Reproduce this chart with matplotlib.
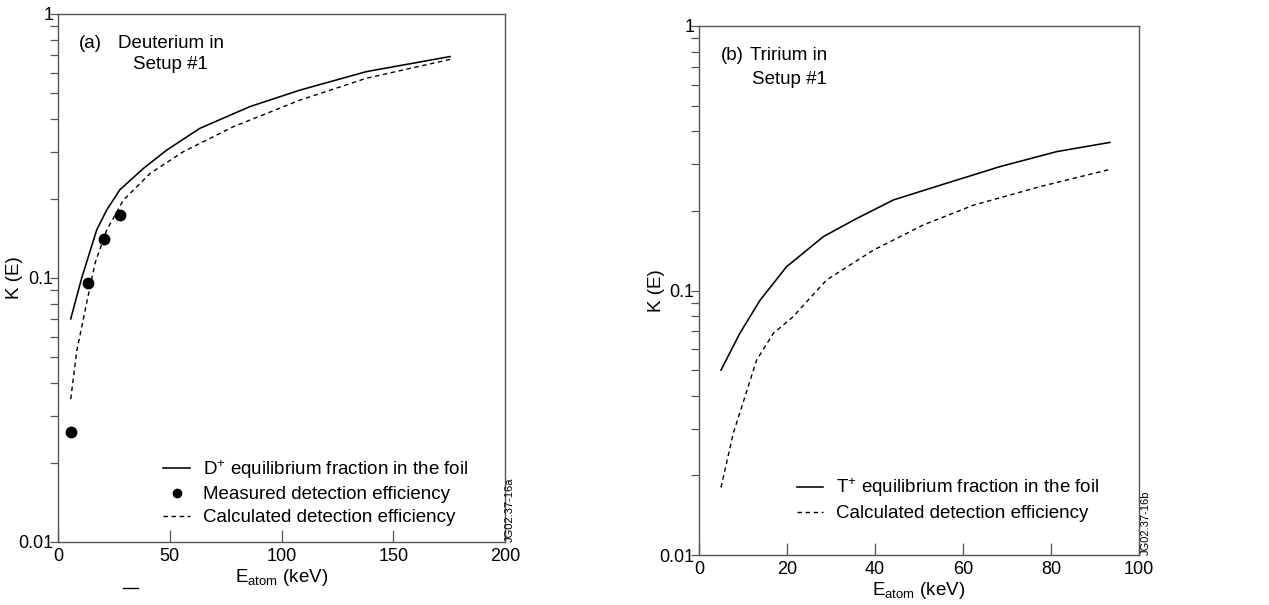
import matplotlib
matplotlib.use('Agg')
import matplotlib.pyplot as plt
from matplotlib.lines import Line2D
from matplotlib.ticker import LogLocator, FixedLocator, NullFormatter, FixedFormatter

plt.rcParams['font.family'] = ['Liberation Sans', 'DejaVu Sans']
plt.rcParams['mathtext.fontset'] = 'custom'
plt.rcParams['mathtext.rm'] = 'Liberation Sans'
plt.rcParams['mathtext.it'] = 'Liberation Sans'

FS = 13.5
TICK_FS = 13

# (a) deuterium, setup #1
d_equil_E = [5.7, 10.6, 17.3, 21.8, 27.7, 38.2, 48.6, 63.5, 85.9, 108.3, 138.0, 175.4]
d_equil_K = [0.070, 0.100, 0.152, 0.181, 0.216, 0.260, 0.305, 0.369, 0.446, 0.515, 0.605, 0.690]
d_calc_E = [5.7, 8.4, 13.1, 16.6, 21.8, 29.2, 41.2, 56.1, 78.4, 108.3, 138.0, 175.4]
d_calc_K = [0.0348, 0.053, 0.0826, 0.114, 0.152, 0.197, 0.249, 0.301, 0.374, 0.472, 0.571, 0.673]
d_meas_E = [5.95, 13.3, 20.6, 27.9]
d_meas_K = [0.026, 0.096, 0.141, 0.173]

# (b) tritium, setup #1
t_equil_E = [5.0, 9.3, 13.9, 19.9, 28.3, 35.8, 44.2, 54.8, 68.4, 81.3, 93.4]
t_equil_K = [0.050, 0.069, 0.092, 0.123, 0.160, 0.187, 0.220, 0.250, 0.294, 0.335, 0.363]
t_calc_E = [5.0, 7.8, 10.8, 13.1, 16.9, 21.4, 24.8, 29.0, 39.6, 51.0, 62.3, 77.5, 93.4]
t_calc_K = [0.018, 0.0289, 0.0414, 0.0546, 0.0689, 0.0796, 0.092, 0.1096, 0.142,
            0.177, 0.210, 0.247, 0.287]

xticks_a = [0, 50, 100, 150, 200]
xticks_b = [0, 20, 40, 60, 80, 100]

W, H = 1269, 605
fig = plt.figure(figsize=(W / 100, H / 100), dpi=100)
ax1 = fig.add_axes([58 / W, 1 - 542 / H, 447 / W, 528 / H])
ax2 = fig.add_axes([699 / W, 1 - 555 / H, 440 / W, 529 / H])

dash = (0, (3.2, 2.6))
spine_col = '#555555'


def style_axes(ax, xticks):
    ax.set_yscale('log')
    ax.set_ylim(0.01, 1)
    ax.set_xlim(xticks[0], xticks[-1])
    ax.xaxis.set_major_locator(FixedLocator(xticks))
    ax.xaxis.set_major_formatter(FixedFormatter([str(t) for t in xticks]))
    ax.yaxis.set_major_locator(FixedLocator([0.01, 0.1, 1]))
    ax.yaxis.set_major_formatter(FixedFormatter(['0.01', '0.1', '1']))
    ax.yaxis.set_minor_locator(LogLocator(base=10, subs=range(2, 10)))
    ax.yaxis.set_minor_formatter(NullFormatter())
    ax.tick_params(axis='x', which='major', direction='in', length=8.5, width=0.9,
                   color=spine_col, pad=4, labelsize=TICK_FS)
    ax.tick_params(axis='y', which='major', direction='out', length=6, width=0.9,
                   color=spine_col, pad=-2.5, labelsize=TICK_FS)
    ax.tick_params(axis='y', which='minor', direction='out', length=5.5, width=0.9,
                   color=spine_col)
    for s in ax.spines.values():
        s.set_color(spine_col)
        s.set_linewidth(1.0)
    ax.set_xlabel(r'E$_{\mathrm{atom}}$ (keV)', fontsize=FS)
    ax.set_ylabel('K (E)', fontsize=FS)
    ax.xaxis.set_label_coords(0.5, -0.047)
    ax.yaxis.set_label_coords(-0.078, 0.5)


style_axes(ax1, xticks_a)
style_axes(ax2, xticks_b)

# panel (a)
l1, = ax1.plot(d_equil_E, d_equil_K, color='black', lw=1.15)
m1, = ax1.plot(d_meas_E, d_meas_K, 'o', color='black', ms=7.5, ls='none')
c1, = ax1.plot(d_calc_E, d_calc_K, color='black', lw=1.0, ls=dash)
ax1.legend([l1, m1, c1],
           [r'D$^{+}$ equilibrium fraction in the foil',
            'Measured detection efficiency',
            'Calculated detection efficiency'],
           loc='lower left', bbox_to_anchor=(0.235, 0.03), frameon=False,
           borderpad=0, borderaxespad=0, fontsize=FS, handlelength=1.45,
           handletextpad=0.7, labelspacing=0.3, markerscale=0.8)
ax1.text(0.047, 0.945, '(a)', transform=ax1.transAxes, fontsize=FS, va='center')
ax1.text(0.134, 0.945, 'Deuterium in', transform=ax1.transAxes, fontsize=FS, va='center')
ax1.text(0.168, 0.905, 'Setup #1', transform=ax1.transAxes, fontsize=FS, va='center')
ax1.text(1.011, 0.0, 'JG02.37-16a', transform=ax1.transAxes, rotation=90,
         ha='center', va='bottom', fontsize=8)

# panel (b)
l2, = ax2.plot(t_equil_E, t_equil_K, color='black', lw=1.15)
c2, = ax2.plot(t_calc_E, t_calc_K, color='black', lw=1.0, ls=dash)
ax2.legend([l2, c2],
           [r'T$^{+}$ equilibrium fraction in the foil',
            'Calculated detection efficiency'],
           loc='lower left', bbox_to_anchor=(0.223, 0.062), frameon=False,
           borderpad=0, borderaxespad=0, fontsize=FS, handlelength=1.4,
           handletextpad=0.7, labelspacing=0.3)
ax2.text(0.05, 0.945, '(b)', transform=ax2.transAxes, fontsize=FS, va='center')
ax2.text(0.116, 0.945, 'Tririum in', transform=ax2.transAxes, fontsize=FS, va='center')
ax2.text(0.12, 0.898, 'Setup #1', transform=ax2.transAxes, fontsize=FS, va='center')
ax2.text(1.016, 0.0, 'JG02.37-16b', transform=ax2.transAxes, rotation=90,
         ha='center', va='bottom', fontsize=8)

# short stray rule under the left axis label
fig.add_artist(Line2D([123 / W, 138 / W], [1 - 588 / H, 1 - 588 / H],
                      color='black', lw=1.0))

fig.savefig('out.png', dpi=100)
